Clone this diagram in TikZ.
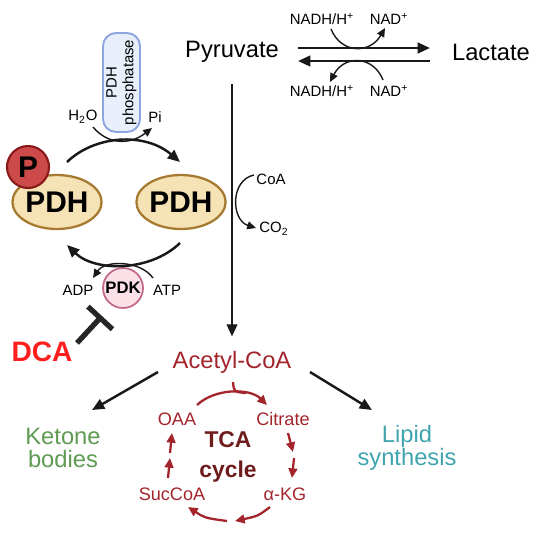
\documentclass[tikz,border=0pt]{standalone}
\usepackage{fontspec}
\setmainfont{Liberation Sans}
\usepackage{xcolor}
\usetikzlibrary{arrows.meta,shapes.geometric}

\definecolor{acred}{HTML}{A3242B}
\definecolor{tcadark}{HTML}{6E1C1C}
\definecolor{ketgreen}{HTML}{5E9A52}
\definecolor{lipteal}{HTML}{40A4AE}
\definecolor{dcared}{HTML}{FF1E1E}
\definecolor{pfill}{HTML}{CC4A4A}
\definecolor{pdraw}{HTML}{8A1A1A}
\definecolor{pdhfill}{HTML}{F5E3B5}
\definecolor{pdhdraw}{HTML}{A67A30}
\definecolor{pdkfill}{HTML}{FBE1E7}
\definecolor{pdkdraw}{HTML}{C06A85}
\definecolor{phfill}{HTML}{E8EEFA}
\definecolor{phdraw}{HTML}{8EA6E0}

\tikzset{
	met/.style={font=\fontsize{13.5}{15}\selectfont, inner sep=1pt},
	cof/.style={font=\fontsize{8.5}{10}\selectfont, inner sep=1pt},
	tcamet/.style={font=\fontsize{10.3}{12}\selectfont, text=acred, inner sep=1pt},
	pdhnode/.style={ellipse, draw=pdhdraw, fill=pdhfill, line width=1.3pt, minimum width=1.4cm, minimum height=1.08cm, inner sep=0pt, font=\fontsize{17}{20}\selectfont\bfseries},
	mainarrow/.style={draw=black!90, line width=1.4pt, -{Triangle[length=7pt,width=6pt]}},
	smallarrow/.style={draw=black!90, line width=0.8pt, -{Triangle[length=5pt,width=4.5pt]}},
	tcaarrow/.style={draw=acred, line width=1.3pt, -{Triangle[length=5.5pt,width=5pt]}}
}

\begin{document}
\begin{tikzpicture}[x=0.02cm, y=-0.02cm]
	\useasboundingbox (0,0) rectangle (550,535);

	% pyruvate / lactate
	\node[met] (pyr) at (232,52) {Pyruvate};
	\node[met] (lac) at (491,52) {Lactate};
	\coordinate (fwa) at (298,48);
	\coordinate (fwb) at (430,48);
	\coordinate (bwa) at (430,61);
	\coordinate (bwb) at (298,61);
	\draw[mainarrow] (fwa) -- (fwb);
	\draw[mainarrow] (bwa) -- (bwb);

	\node[cof] (nadhup) at (322,19) {NADH/H\textsuperscript{+}};
	\node[cof] (nadup) at (389,19) {NAD\textsuperscript{+}};
	\node[cof] (nadhlo) at (322,91) {NADH/H\textsuperscript{+}};
	\node[cof] (nadlo) at (389,91) {NAD\textsuperscript{+}};
	\draw[smallarrow] (331,29) .. controls (341,54) and (370,54) .. (385,28);
	\draw[smallarrow] (383,80) .. controls (373,55) and (344,55) .. (330,82);

	% pyruvate -> acetyl-CoA
	\node[met, text=acred] (acoa) at (232,362) {Acetyl-CoA};
	\draw[mainarrow, shorten <=11pt, shorten >=7pt] (pyr.south) -- (acoa.north);
	\node[cof] (coa) at (271,179) {CoA};
	\node[cof] (co2) at (274,229) {CO\textsubscript{2}};
	\draw[smallarrow] (254,175) .. controls (230,180) and (231,220) .. (256,228);

	% PDH cycle
	\node[pdhnode] (pdhp) at (57,202) {PDH};
	\node[pdhnode] (pdh) at (181,202) {PDH};
	\node[circle, draw=pdraw, fill=pfill, line width=1.2pt, minimum size=0.84cm, inner sep=0pt, font=\fontsize{17}{20}\selectfont\bfseries] (pgrp) at (28,167) {P};

	\node[draw=phdraw, fill=phfill, line width=1.1pt, rounded corners=0.26cm, rotate=90, minimum width=1.98cm, minimum height=0.74cm, inner sep=1pt, align=center, font=\fontsize{8.5}{9.5}\selectfont] (phos) at (121.5,82.5) {PDH\\phosphatase};
	\node[cof] (hho) at (83,117) {H\textsubscript{2}O};
	\node[cof] (pi) at (155,117) {Pi};
	\draw[mainarrow] (67,162) .. controls (95,135) and (145,132) .. (180,162);
	\draw[smallarrow] (93,127) .. controls (108,145) and (130,145) .. (152,128);

	\node[circle, draw=pdkdraw, fill=pdkfill, line width=1pt, minimum size=0.8cm, inner sep=0pt, font=\fontsize{9.5}{11}\selectfont\bfseries] (pdk) at (123,288) {PDK};
	\node[cof] (adp) at (78,290) {ADP};
	\node[cof] (atp) at (167,290) {ATP};
	\draw[mainarrow] (180,243) .. controls (150,272) and (95,272) .. (67,245);
	\draw[smallarrow] (153,278) .. controls (140,260) and (105,260) .. (93,278);

	% DCA inhibition
	\node[font=\fontsize{16}{18}\selectfont\bfseries, text=dcared, inner sep=1pt] (dca) at (42,352) {DCA};
	\coordinate (inha) at (77,343);
	\coordinate (inhb) at (102,316);
	\draw[draw=black!85, line width=3pt, -{Bar[width=19pt, line width=3pt]}] (inha) -- (inhb);

	% fates of acetyl-CoA
	\node[met, text=ketgreen, align=center, font=\fontsize{13.5}{13}\selectfont] (ket) at (63,448) {Ketone\\bodies};
	\node[met, text=lipteal, align=center, font=\fontsize{13.5}{13}\selectfont] (lip) at (407,448) {Lipid\\synthesis};
	\draw[mainarrow] (158,372) -- (92,410);
	\draw[mainarrow] (310,372) -- (372,410);

	% TCA cycle
	\node[tcamet] (oaa) at (177,419) {OAA};
	\node[tcamet] (cit) at (283,419) {Citrate};
	\node[tcamet] (akg) at (285,494) {α-KG};
	\node[tcamet] (suc) at (172,494) {SucCoA};
	\node[font=\fontsize{13}{17.5}\selectfont\bfseries, text=tcadark, align=center] (tca) at (228,457) {TCA\\cycle};

	\draw[tcaarrow] (197,405) .. controls (215,388) and (250,388) .. (267,405);
	\draw[draw=acred, line width=1.3pt] (233,382) .. controls (234,392) .. (246,393);
	\draw[tcaarrow] (288,433) -- (293,452);
	\draw[tcaarrow] (294,458) -- (292,478);
	\draw[tcaarrow] (270,507) .. controls (258,516) .. (235,521);
	\draw[tcaarrow] (227,521) .. controls (205,518) .. (188,507);
	\draw[tcaarrow] (168,478) -- (170,458);
	\draw[tcaarrow] (170,453) -- (172,433);
\end{tikzpicture}
\end{document}
